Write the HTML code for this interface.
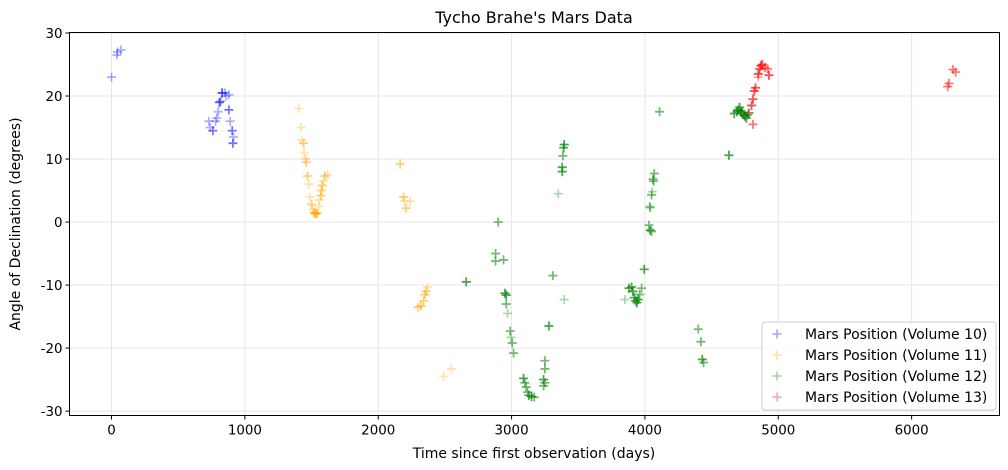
<!DOCTYPE html>
<html><head><meta charset="utf-8">
<style>
html,body{margin:0;padding:0;background:#fff;}
svg{display:block;font-family:"DejaVu Sans","Liberation Sans",sans-serif;}
</style></head>
<body>
<svg id="chart" width="1008" height="470" viewBox="0 0 1008 470" xmlns="http://www.w3.org/2000/svg">
<text x="534" y="23" font-size="16" text-anchor="middle" fill="#000">Tycho Brahe's Mars Data</text>
<g id="grid"></g>
<g id="marks"></g>
<rect x="69.5" y="32.5" width="930" height="383" fill="none" stroke="#000" stroke-width="1"/>
<g id="axes"></g>
<text x="534" y="458" font-size="14" text-anchor="middle">Time since first observation (days)</text>
<text transform="translate(20,224) rotate(-90)" font-size="14" text-anchor="middle">Angle of Declination (degrees)</text>
<g id="legend"></g>
</svg>
<script>
const xTicks=[0,1000,2000,3000,4000,5000,6000];
const yTicks=[-30,-20,-10,0,10,20,30];
const seriesNames=["Mars Position (Volume 10)","Mars Position (Volume 11)","Mars Position (Volume 12)","Mars Position (Volume 13)"];
const seriesColors=["#0000ff","#ffa500","#008000","#ff0000"];
const vol10Days=[0,40,45,70,730,740,760,780,790,800,810,820,830,850,860,880,880,890,905,915,910];
const vol10Decl=[23,26.5,27,27.3,16,15,14.5,16,16.5,17.5,19,19.2,20.5,20.5,20,20.2,17.8,16,14.5,13.5,12.5];
const vol10Count=[1,1,1,1,1,1,2,1,1,1,3,1,3,1,1,1,2,1,2,1,2];
const vol11Days=[1405,1420,1425,1440,1445,1455,1460,1470,1480,1490,1500,1510,1520,1530,1540,1555,1560,1570,1575,1580,1590,1600,1620,2165,2190,2195,2210,2240,2300,2320,2340,2350,2360,2370,2490,2550];
const vol11Decl=[18,15,13,12.5,11,10,9.5,7.3,6,4,2.8,2,1.5,1.3,1.4,2.5,3.5,4.2,5,5.8,6.5,7.3,7.5,9.2,4,3.3,2.2,3.3,-13.5,-13.3,-12.5,-11.5,-11,-10.3,-24.5,-23.3];
const vol11Count=[1,1,1,2,1,1,2,2,1,1,2,1,3,3,3,1,1,2,2,2,1,2,1,2,2,1,2,1,2,2,2,2,2,1,1,1];
const vol12Days=[2660,2900,2880,2880,2940,2950,2960,2960,2970,2990,2995,3005,3015,3090,3100,3110,3120,3130,3150,3170,3240,3250,3240,3250,3250,3280,3310,3350,3380,3380,3385,3390,3395,3395,3850,3880,3900,3910,3920,3930,3940,3950,3960,3975,3995,4030,4040,4050,4035,4040,4050,4055,4060,4065,4070,4110,4400,4420,4430,4440,4630,4670,4690,4700,4710,4720,4730,4740,4750,4760,4770,4780];
const vol12Decl=[-9.5,0,-5,-6.2,-6,-11.3,-11.6,-13,-14.5,-17.3,-18.3,-19.2,-20.8,-24.8,-25.5,-26.2,-27,-27.5,-27.7,-27.8,-25,-25.5,-26,-23.3,-22,-16.5,-8.5,4.5,8,8.7,10.5,11.8,12.3,-12.3,-12.3,-10.5,-10.3,-11,-12,-12.5,-12.8,-12.3,-11.5,-10.5,-7.5,-0.5,-1.3,-1.5,2.5,2.3,4.3,4.8,6.8,6.5,7.7,17.5,-17,-19,-21.8,-22.3,10.6,17.2,17.5,17.8,18.2,17.6,17.3,17,16.8,16.5,17,17.3];
const vol12Count=[3,2,2,2,2,3,3,2,1,2,1,2,2,3,2,2,2,3,3,2,3,2,2,2,2,3,2,1,3,3,2,3,3,1,1,3,3,3,3,3,3,3,2,2,3,2,3,2,1,2,2,1,2,2,2,2,2,2,3,2,3,3,3,3,3,3,3,3,3,3,2,2];
const vol13Days=[4780,4800,4810,4820,4830,4810,4850,4860,4870,4880,4900,4920,4930,4850,6270,6280,6310,6330];
const vol13Decl=[17.3,18.5,19.5,20.8,21.3,15.5,23.5,24.3,24.8,25,24.5,24.3,23.3,23,21.5,22,24.2,23.8];
const vol13Count=[1,3,3,3,3,2,3,3,3,3,2,2,3,1,2,2,2,2];

const NS="http://www.w3.org/2000/svg";
const X0=69.5,X1=999.5,Y0=32.5,Y1=415.5;
const xMin=-315,xMax=6659,yMin=-30.7,yMax=30.08;
function xs(v){return X0+(v-xMin)/(xMax-xMin)*(X1-X0);}
function ys(v){return Y1-(v-yMin)/(yMax-yMin)*(Y1-Y0);}
function mk(tag,attrs,parent){const e=document.createElementNS(NS,tag);for(const k in attrs)e.setAttribute(k,attrs[k]);parent.appendChild(e);return e;}
const grid=document.getElementById('grid'),axes=document.getElementById('axes'),marks=document.getElementById('marks'),legend=document.getElementById('legend');
xTicks.forEach(t=>{const x=xs(t);
 const g=mk('line',{x1:x,x2:x,y1:Y0,y2:Y1,stroke:'#e6e6e6','stroke-width':1},grid);
 
 
 mk('line',{x1:x,x2:x,y1:Y1,y2:Y1+4,stroke:'#000'},axes);
 const tx=mk('text',{x:x,y:Y1+19,'font-size':13.4,'text-anchor':'middle'},axes);tx.textContent=t;
 
 
});
yTicks.forEach(t=>{const y=ys(t);
 const g=mk('line',{x1:X0,x2:X1,y1:y,y2:y,stroke:'#e6e6e6','stroke-width':1},grid);
 
 
 mk('line',{x1:X0-4,x2:X0,y1:y,y2:y,stroke:'#000'},axes);
 const tx=mk('text',{x:X0-7,y:y+5,'font-size':13.4,'text-anchor':'end'},axes);tx.textContent=t;
 
 
});
function plus(x,y,color,parent){
 const p=mk('path',{d:`M${x-4.5},${y}H${x+4.5}M${x},${y-4.5}V${y+4.5}`,stroke:color,'stroke-width':1.7,'stroke-opacity':0.33,fill:'none'},parent);
 return p;
}
const allDays=[vol10Days,vol11Days,vol12Days,vol13Days],allDecl=[vol10Decl,vol11Decl,vol12Decl,vol13Decl],allCount=[vol10Count,vol11Count,vol12Count,vol13Count];
allDays.forEach((days,s)=>{
 const g=mk('g',{},marks);
 
 
 days.forEach((d,i)=>{for(let k=0;k<allCount[s][i];k++){
  const p=plus(xs(d),ys(allDecl[s][i]),seriesColors[s],g);
  
  
 }});
});
const lb=mk('rect',{x:762,y:322,width:234,height:88,rx:3,fill:'#fff','fill-opacity':0.8,stroke:'#ccc'},legend);
seriesNames.forEach((n,i)=>{const y=334+i*21;
 const e=mk('g',{},legend);
 
 
 plus(777,y,seriesColors[i],e);
 const t=mk('text',{x:805,y:y+5,'font-size':14},e);t.textContent=n;
});
</script>
</body></html>
